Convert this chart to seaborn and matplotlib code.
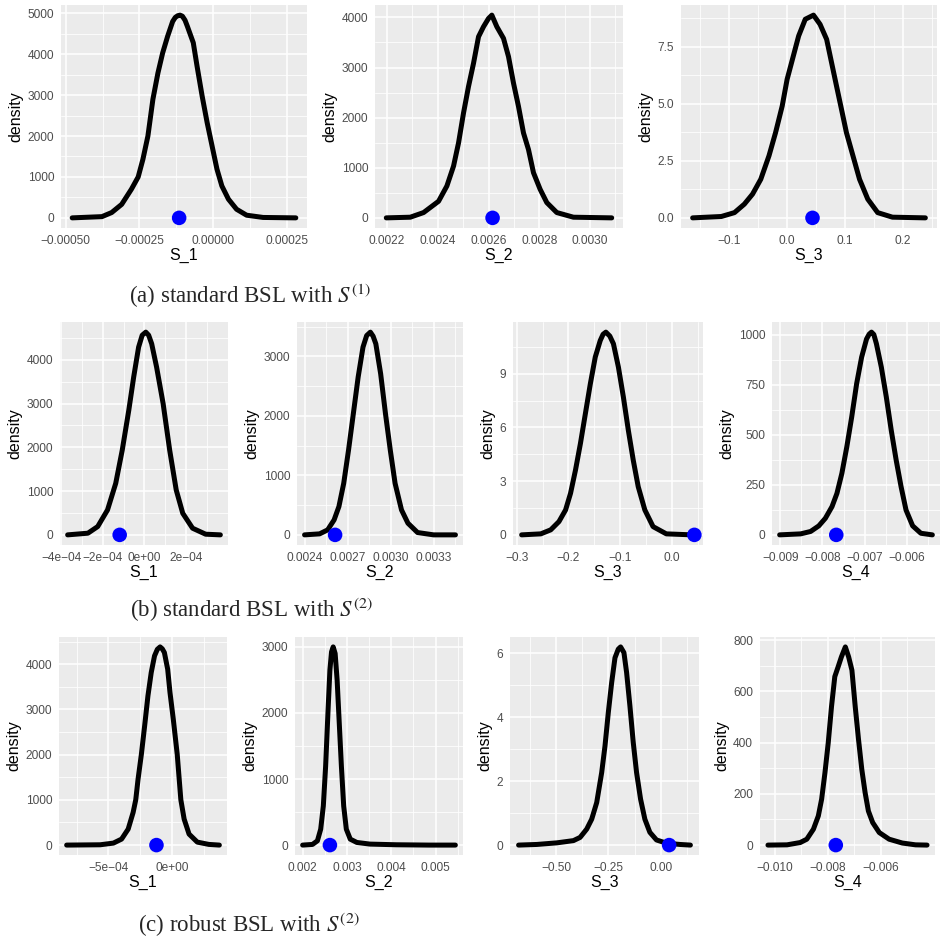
import numpy as np
import pandas as pd
import seaborn as sns
import matplotlib.pyplot as plt

sns.set_theme(style="darkgrid")
plt.rcParams['font.family'] = ['Liberation Sans', 'DejaVu Sans']
plt.rcParams['mathtext.fontset'] = 'stix'
plt.rcParams['axes.unicode_minus'] = True

M = "\u2212"

# ---- (a) standard BSL with S(1) ----
a_s1_x = [-4.78e-4, -3.77e-4, -3.44e-4, -3.10e-4, -2.77e-4, -2.54e-4, -2.38e-4, -2.21e-4,
          -2.04e-4, -1.87e-4, -1.71e-4, -1.54e-4, -1.37e-4, -1.28e-4, -1.20e-4, -1.12e-4,
          -1.04e-4, -0.95e-4, -0.87e-4, -0.67e-4, -0.54e-4, -0.37e-4, -0.20e-4, -0.033e-4,
          0.134e-4, 0.30e-4, 0.525e-4, 0.80e-4, 1.14e-4, 1.70e-4, 2.81e-4]
a_s1_y = [0, 30, 130, 330, 700, 1000, 1430, 2000, 2900, 3540, 4030, 4440, 4800, 4900, 4940,
          4955, 4930, 4830, 4680, 4280, 3700, 2980, 2330, 1760, 1190, 780, 455, 210, 65, 10, 0]
a_s1_obs = -1.15e-4

a_s2_x = [0.0021974, 0.0022918, 0.0023443, 0.0024033, 0.0024361, 0.0024623, 0.0024820,
          0.0025016, 0.0025213, 0.0025410, 0.0025607, 0.0025803, 0.0026000, 0.0026131,
          0.0026328, 0.0026590, 0.0026787, 0.0026984, 0.0027180, 0.0027377, 0.0027574,
          0.0027771, 0.0028033, 0.0028295, 0.0028689, 0.0029344, 0.0030852]
a_s2_y = [0, 13, 106, 331, 636, 1033, 1497, 2093, 2623, 3086, 3616, 3815, 3980, 4046,
          3815, 3583, 3219, 2689, 2225, 1695, 1364, 901, 570, 305, 106, 13, 0]
a_s2_obs = 0.002616

a_s3_x = [-0.1631, -0.1136, -0.0909, -0.0739, -0.0597, -0.0455, -0.0313, -0.0199, -0.0085,
          0.0, 0.0085, 0.0199, 0.0313, 0.0455, 0.0568, 0.0682, 0.0767, 0.0852, 0.0938,
          0.1023, 0.1136, 0.125, 0.1392, 0.1563, 0.1818, 0.2386]
a_s3_y = [0, 0.06, 0.23, 0.6, 1.04, 1.69, 2.72, 3.74, 4.9, 6.07, 6.88, 7.97, 8.7, 8.88,
          8.48, 7.82, 6.8, 5.78, 4.76, 3.74, 2.72, 1.69, 0.82, 0.23, 0.03, 0]
a_s3_obs = 0.0438

# ---- (b) standard BSL with S(2) ----
b_s1_x = [-3.686e-4, -2.714e-4, -2.243e-4, -1.773e-4, -1.380e-4, -1.067e-4, -0.753e-4,
          -0.518e-4, -0.282e-4, -0.110e-4, 0.063e-4, 0.200e-4, 0.345e-4, 0.580e-4, 0.894e-4,
          1.208e-4, 1.522e-4, 1.835e-4, 2.306e-4, 2.933e-4, 3.639e-4]
b_s1_y = [0, 38, 190, 569, 1176, 1935, 2846, 3605, 4288, 4560, 4630, 4560, 4364, 3833,
          2998, 1935, 1025, 493, 152, 15, 0]
b_s1_obs = -1.19e-4

b_s2_x = [0.0024000, 0.0025052, 0.0025612, 0.0026060, 0.0026395, 0.0026731, 0.0027067,
          0.0027403, 0.0027739, 0.0028075, 0.0028330, 0.0028590, 0.0028780, 0.0028970,
          0.0029306, 0.0029642, 0.0029978, 0.0030313, 0.0030761, 0.0031209, 0.0031881,
          0.0033000, 0.0034522]
b_s2_y = [0, 17, 84, 251, 475, 866, 1425, 2039, 2654, 3156, 3350, 3408, 3340, 3212, 2709,
          2039, 1425, 866, 419, 196, 39, 0, 0]
b_s2_obs = 0.002613

b_s3_x = [-0.2904, -0.2534, -0.2342, -0.2183, -0.2055, -0.1959, -0.1863, -0.1768, -0.1672,
          -0.1576, -0.1481, -0.1385, -0.1330, -0.1276, -0.1200, -0.1130, -0.1034, -0.0938,
          -0.0842, -0.0747, -0.0651, -0.0523, -0.0364, -0.0108, 0.0389]
b_s3_y = [0, 0.056, 0.28, 0.74, 1.39, 2.32, 3.62, 5.10, 6.77, 8.44, 9.93, 10.85, 11.2,
          11.32, 11.1, 10.67, 9.37, 7.70, 5.84, 4.17, 2.69, 1.39, 0.46, 0.056, 0]
b_s3_obs = 0.0434

b_s4_x = [-0.009016, -0.008516, -0.008281, -0.008086, -0.007930, -0.007773, -0.007656,
          -0.007539, -0.007422, -0.007305, -0.007188, -0.007070, -0.006953, -0.006890,
          -0.006836, -0.006780, -0.006719, -0.006602, -0.006484, -0.006367, -0.006250,
          -0.006133, -0.006016, -0.005859, -0.005664, -0.005391]
b_s4_y = [0, 5, 17, 45, 83, 141, 207, 307, 439, 589, 755, 887, 978, 1002, 1012, 1000, 954,
          837, 688, 522, 373, 240, 124, 45, 8, 0]
b_s4_obs = -0.007672

# ---- (c) robust BSL with S(2) ----
c_s1_x = [-8.290e-4, -5.648e-4, -4.611e-4, -3.964e-4, -3.446e-4, -3.057e-4, -2.850e-4,
          -2.668e-4, -2.409e-4, -2.150e-4, -1.891e-4, -1.632e-4, -1.373e-4, -1.150e-4,
          -0.933e-4, -0.760e-4, -0.596e-4, -0.337e-4, -0.155e-4, 0.104e-4, 0.415e-4,
          0.699e-4, 0.959e-4, 1.347e-4, 1.995e-4, 2.902e-4, 3.731e-4]
c_s1_y = [0, 7, 44, 133, 354, 722, 1002, 1459, 2004, 2637, 3300, 3816, 4184, 4330, 4383,
          4340, 4258, 3890, 3374, 2785, 2004, 1002, 575, 243, 66, 15, 0]
c_s1_obs = -1.22e-4

c_s2_x = [0.0020000, 0.0022222, 0.0023333, 0.0024074, 0.0024667, 0.0025185, 0.0025704,
          0.0026148, 0.0026519, 0.0026889, 0.0027333, 0.0027778, 0.0028222, 0.0028741,
          0.0029259, 0.0029852, 0.0030741, 0.0032222, 0.0035185, 0.0041111, 0.0048519,
          0.0054444]
c_s2_y = [0, 10, 65, 241, 592, 1194, 1997, 2649, 2925, 3000, 2900, 2498, 1897, 1194, 592,
          241, 90, 40, 15, 5, 0, 0]
c_s2_obs = 0.002615

c_s3_x = [-0.6794, -0.5921, -0.4968, -0.4175, -0.3857, -0.3540, -0.3302, -0.3063, -0.2825,
          -0.2667, -0.2508, -0.2349, -0.2190, -0.2032, -0.1921, -0.1762, -0.1635, -0.1476,
          -0.1317, -0.1159, -0.0968, -0.0762, -0.0524, -0.0206, 0.0270, 0.0905, 0.1413]
c_s3_y = [0, 0.02, 0.07, 0.14, 0.24, 0.5, 0.81, 1.33, 2.27, 3.10, 4.15, 5.08, 5.86, 6.13,
          6.2, 6.02, 5.4, 4.35, 3.21, 2.27, 1.44, 0.81, 0.40, 0.16, 0.06, 0.02, 0]
c_s3_obs = 0.0397

c_s4_x = [-0.010248, -0.009528, -0.009031, -0.008783, -0.008534, -0.008348, -0.008224,
          -0.008099, -0.007975, -0.007851, -0.007727, -0.007602, -0.007478, -0.007329,
          -0.007205, -0.007081, -0.006957, -0.006832, -0.006708, -0.006584, -0.006460,
          -0.006298, -0.006050, -0.005677, -0.005180, -0.004683, -0.004248]
c_s4_y = [0, 1, 10, 23, 62, 114, 179, 282, 399, 541, 658, 696, 735, 774, 735, 683, 541,
          412, 295, 205, 133, 88, 49, 23, 8, 1, 0]
c_s4_obs = -0.007689

# tick values / labels
a_s1_xt, a_s1_xl = [-5e-4, -2.5e-4, 0, 2.5e-4], [M + "0.00050", M + "0.00025", "0.00000", "0.00025"]
a_s2_xt, a_s2_xl = [0.0022, 0.0024, 0.0026, 0.0028, 0.0030], ["0.0022", "0.0024", "0.0026", "0.0028", "0.0030"]
a_s3_xt, a_s3_xl = [-0.1, 0.0, 0.1, 0.2], [M + "0.1", "0.0", "0.1", "0.2"]
b_s1_xt, b_s1_xl = [-4e-4, -2e-4, 0, 2e-4], [M + "4e" + M + "04", M + "2e" + M + "04", "0e+00", "2e" + M + "04"]
b_s2_xt, b_s2_xl = [0.0024, 0.0027, 0.0030, 0.0033], ["0.0024", "0.0027", "0.0030", "0.0033"]
b_s3_xt, b_s3_xl = [-0.3, -0.2, -0.1, 0.0], [M + "0.3", M + "0.2", M + "0.1", "0.0"]
b_s4_xt, b_s4_xl = [-0.009, -0.008, -0.007, -0.006], [M + "0.009", M + "0.008", M + "0.007", M + "0.006"]
c_s1_xt, c_s1_xl = [-5e-4, 0], [M + "5e" + M + "04", "0e+00"]
c_s2_xt, c_s2_xl = [0.002, 0.003, 0.004, 0.005], ["0.002", "0.003", "0.004", "0.005"]
c_s3_xt, c_s3_xl = [-0.5, -0.25, 0.0], [M + "0.50", M + "0.25", "0.00"]
c_s4_xt, c_s4_xl = [-0.010, -0.008, -0.006], [M + "0.010", M + "0.008", M + "0.006"]

a_s1_yt = [0, 1000, 2000, 3000, 4000, 5000]
a_s2_yt = [0, 1000, 2000, 3000, 4000]
a_s3_yt, a_s3_yl = [0, 2.5, 5.0, 7.5], ["0.0", "2.5", "5.0", "7.5"]
b_s1_yt = [0, 1000, 2000, 3000, 4000]
b_s2_yt = [0, 1000, 2000, 3000]
b_s3_yt = [0, 3, 6, 9]
b_s4_yt = [0, 250, 500, 750, 1000]
c_s1_yt = [0, 1000, 2000, 3000, 4000]
c_s2_yt = [0, 1000, 2000, 3000]
c_s3_yt = [0, 2, 4, 6]
c_s4_yt = [0, 200, 400, 600, 800]

panels = [
    ("S_1", a_s1_x, a_s1_y, a_s1_obs, a_s1_xt, a_s1_xl, a_s1_yt, None, (61, 5, 307, 228)),
    ("S_2", a_s2_x, a_s2_y, a_s2_obs, a_s2_xt, a_s2_xl, a_s2_yt, None, (375, 5, 623, 228)),
    ("S_3", a_s3_x, a_s3_y, a_s3_obs, a_s3_xt, a_s3_xl, a_s3_yt, a_s3_yl, (681, 5, 937, 228)),
    ("S_1", b_s1_x, b_s1_y, b_s1_obs, b_s1_xt, b_s1_xl, b_s1_yt, None, (60, 322, 228, 545)),
    ("S_2", b_s2_x, b_s2_y, b_s2_obs, b_s2_xt, b_s2_xl, b_s2_yt, None, (297, 322, 463, 545)),
    ("S_3", b_s3_x, b_s3_y, b_s3_obs, b_s3_xt, b_s3_xl, b_s3_yt, None, (513, 322, 703, 545)),
    ("S_4", b_s4_x, b_s4_y, b_s4_obs, b_s4_xt, b_s4_xl, b_s4_yt, None, (772, 322, 940, 545)),
    ("S_1", c_s1_x, c_s1_y, c_s1_obs, c_s1_xt, c_s1_xl, c_s1_yt, None, (59, 637, 227, 855)),
    ("S_2", c_s2_x, c_s2_y, c_s2_obs, c_s2_xt, c_s2_xl, c_s2_yt, None, (295, 637, 463, 855)),
    ("S_3", c_s3_x, c_s3_y, c_s3_obs, c_s3_xt, c_s3_xl, c_s3_yt, None, (510, 637, 699, 855)),
    ("S_4", c_s4_x, c_s4_y, c_s4_obs, c_s4_xt, c_s4_xl, c_s4_yt, None, (760, 637, 935, 855)),
]

captions = [
    (r"(a) standard BSL with $S^{(1)}$", 129, 303),
    (r"(b) standard BSL with $S^{(2)}$", 130, 617),
    (r"(c) robust BSL with $S^{(2)}$", 138, 932),
]

W, H = 946, 942
fig = plt.figure(figsize=(W / 100, H / 100), dpi=100)


def minors(major, lo, hi):
    d = major[1] - major[0]
    m = np.arange(major[0] - d / 2, major[-1] + d, d)
    return [v for v in m if lo < v < hi]


for name, x, y, obs, xt, xl, yt, yl, (l, t, r, b) in panels:
    ax = fig.add_axes([l / W, 1 - b / H, (r - l) / W, (b - t) / H])
    df = pd.DataFrame({name: x, "density": y})
    sns.lineplot(data=df, x=name, y="density", ax=ax, color="black", lw=3.6, zorder=3,
                 solid_joinstyle="round", solid_capstyle="round")
    sns.scatterplot(x=[obs], y=[0], ax=ax, color="blue", s=110, edgecolor="none", zorder=4)

    xlo, xhi = min(min(x), obs), max(max(x), obs)
    dx = (xhi - xlo) * 0.05
    ylo, yhi = 0, max(y)
    dy = (yhi - ylo) * 0.05
    ax.set_xlim(xlo - dx, xhi + dx)
    ax.set_ylim(ylo - dy, yhi + dy)

    ax.set_xticks(xt)
    ax.set_xticklabels(xl)
    ax.set_yticks(yt)
    ax.set_yticklabels(yl if yl else [str(v) for v in yt])
    ax.set_xticks(minors(xt, xlo - dx, xhi + dx), minor=True)
    ax.set_yticks(minors(yt, ylo - dy, yhi + dy), minor=True)

    ax.set_facecolor("#EBEBEB")
    ax.grid(which="major", color="white", lw=1.1)
    ax.grid(which="minor", color="white", lw=0.55)
    ax.set_axisbelow(True)
    for s in ax.spines.values():
        s.set_visible(False)
    ax.tick_params(which="major", length=3, width=0.8, color="#333333",
                   labelsize=8.6, labelcolor="#4D4D4D", pad=2)
    ax.tick_params(which="minor", length=0)
    ax.set_xlabel(name, fontsize=11.5, color="black", labelpad=1)
    ax.set_ylabel("density", fontsize=11.5, color="black", labelpad=3)

for text, px, py in captions:
    fig.text(px / W, 1 - py / H, text, family="Liberation Serif", fontsize=16.5,
             va="baseline", ha="left")

fig.savefig("out.png", dpi=100)
